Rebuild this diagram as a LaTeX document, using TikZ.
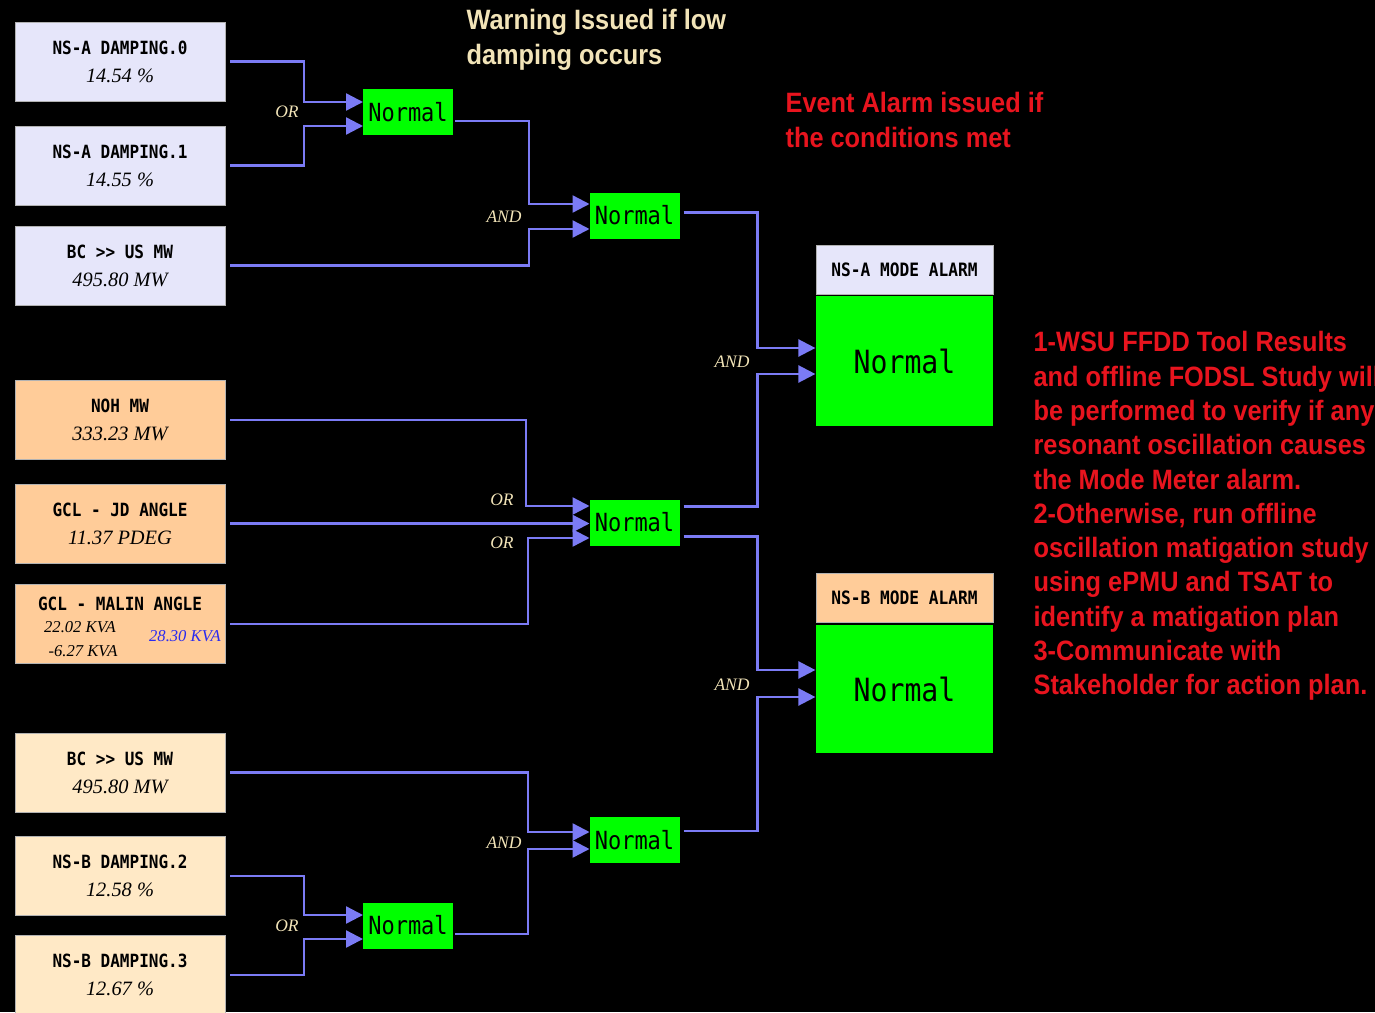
\documentclass[tikz,border=0pt]{standalone}
\usepackage{fontspec}
\usetikzlibrary{calc,arrows.meta}
\newfontfamily\notefont[FakeStretch=0.905]{Liberation Sans}
\newfontfamily\tagfont[FakeStretch=0.88]{DejaVu Sans Mono}
\newfontfamily\valfont{Liberation Serif}
\definecolor{wireblue}{HTML}{7B7BF5}
\definecolor{lavbox}{HTML}{E6E6FA}
\definecolor{peachbox}{HTML}{FFCC99}
\definecolor{creambox}{HTML}{FFE9C6}
\definecolor{gategreen}{HTML}{00FF00}
\definecolor{notecream}{HTML}{F2E4B8}
\definecolor{notered}{HTML}{E8141E}
\definecolor{kvablue}{HTML}{2A2AF0}

\begin{document}
\begin{tikzpicture}[
    x=0.5pt, y=-0.5pt,
    line width=0.6pt,
    srcbox/.style={draw=gray!60, line width=0.4pt, minimum width=105pt,
      minimum height=39.5pt, inner sep=0pt, outer sep=2.5pt, align=center,
      font=\fontsize{10.2}{14}\selectfont},
    tag/.style={font=\tagfont\bfseries\fontsize{9.1}{11}\selectfont},
    gate/.style={fill=gategreen, minimum width=45pt, minimum height=23pt,
      inner sep=0pt, outer sep=0pt, font=\tagfont\fontsize{12.5}{14}\selectfont},
    alarmhead/.style={draw=gray!60, line width=0.4pt, minimum width=88.5pt,
      minimum height=24.5pt, inner sep=0pt, font=\tagfont\bfseries\fontsize{9.2}{11}\selectfont},
    alarm/.style={fill=gategreen, minimum width=88.5pt, inner sep=0pt,
      font=\tagfont\fontsize{16}{18}\selectfont},
    logic/.style={text=notecream, inner sep=0pt, font=\valfont\itshape\fontsize{8.75}{10}\selectfont},
    kva/.style={inner sep=0pt, font=\valfont\itshape\fontsize{8.3}{10}\selectfont},
    note/.style={inner sep=0pt, align=left, font=\notefont\bfseries\fontsize{14}{17.15}\selectfont},
    wire/.style={draw=wireblue, line width=1.2pt},
    feed/.style={wire, -{Triangle[length=8.5pt,width=8.5pt]}},
  ]

  % ---------- Background ---------------------------------------------------
  \fill[black] (0,0) rectangle (1375,1012);
  \useasboundingbox (0,0) rectangle (1375,1012);

  % ---------- NS-A inputs (lavender) ----------------------------------------
  \node[srcbox, fill=lavbox] (dampA0) at (120,61.5)
    {{\tagfont\bfseries\fontsize{9.1}{11}\selectfont NS-A DAMPING.0}\\{\valfont\itshape 14.54 \%}};
  \node[srcbox, fill=lavbox] (dampA1) at (120,165.5)
    {{\tagfont\bfseries\fontsize{9.1}{11}\selectfont NS-A DAMPING.1}\\{\valfont\itshape 14.55 \%}};
  \node[srcbox, fill=lavbox] (flowA) at (120,265.5)
    {{\tagfont\bfseries\fontsize{9.1}{11}\selectfont BC >> US MW}\\{\valfont\itshape 495.80 MW}};

  % ---------- Shared inputs (peach) -----------------------------------------
  \node[srcbox, fill=peachbox] (nohmw) at (120,420)
    {{\tagfont\bfseries\fontsize{9.1}{11}\selectfont NOH MW}\\{\valfont\itshape 333.23 MW}};
  \node[srcbox, fill=peachbox] (jdang) at (120,523.5)
    {{\tagfont\bfseries\fontsize{9.1}{11}\selectfont GCL - JD ANGLE}\\{\valfont\itshape 11.37 PDEG}};
  \node[srcbox, fill=peachbox] (malin) at (120,624) {};
  \node[tag] (malintitle) at (120,604) {GCL - MALIN ANGLE};
  \node[kva] (malinp) at (80,627) {22.02 KVA};
  \node[kva] (malinq) at (83,651) {-6.27 KVA};
  \node[kva, text=kvablue] (malins) at (185,636) {28.30 KVA};

  % ---------- NS-B inputs (cream) -------------------------------------------
  \node[srcbox, fill=creambox] (flowB) at (120,772.5)
    {{\tagfont\bfseries\fontsize{9.1}{11}\selectfont BC >> US MW}\\{\valfont\itshape 495.80 MW}};
  \node[srcbox, fill=creambox] (dampB2) at (120,876)
    {{\tagfont\bfseries\fontsize{9.1}{11}\selectfont NS-B DAMPING.2}\\{\valfont\itshape 12.58 \%}};
  \node[srcbox, fill=creambox] (dampB3) at (120,975)
    {{\tagfont\bfseries\fontsize{9.1}{11}\selectfont NS-B DAMPING.3}\\{\valfont\itshape 12.67 \%}};

  % ---------- Logic gates ---------------------------------------------------
  \node[gate] (gateA1) at (408,112) {Normal};
  \node[gate] (gateA2) at (634.5,215.5) {Normal};
  \node[gate] (gateM) at (634.5,522.5) {Normal};
  \node[gate] (gateB2) at (634.5,840) {Normal};
  \node[gate] (gateB1) at (408,925.5) {Normal};

  % ---------- Mode alarms ---------------------------------------------------
  \node[alarmhead, fill=lavbox] (headA) at (904.5,269.5) {NS-A MODE ALARM};
  \node[alarm, minimum height=65pt] (modeA) at (904.5,361) {Normal};
  \node[alarmhead, fill=peachbox] (headB) at (904.5,597.5) {NS-B MODE ALARM};
  \node[alarm, minimum height=64pt] (modeB) at (904.5,689) {Normal};

  % ---------- Gate input points ---------------------------------------------
  \coordinate (a1i1) at ($(gateA1.west)+(0,-10)$);
  \coordinate (a1i2) at ($(gateA1.west)+(0,14)$);
  \coordinate (a2i1) at ($(gateA2.west)+(0,-11.5)$);
  \coordinate (a2i2) at ($(gateA2.west)+(0,13.5)$);
  \coordinate (mi1) at ($(gateM.west)+(0,-16.5)$);
  \coordinate (mi3) at ($(gateM.west)+(0,15.5)$);
  \coordinate (b2i1) at ($(gateB2.west)+(0,-8)$);
  \coordinate (b2i2) at ($(gateB2.west)+(0,9)$);
  \coordinate (b1i1) at ($(gateB1.west)+(0,-10.5)$);
  \coordinate (b1i2) at ($(gateB1.west)+(0,13.5)$);
  \coordinate (ai1) at ($(modeA.west)+(0,-13)$);
  \coordinate (ai2) at ($(modeA.west)+(0,13)$);
  \coordinate (bi1) at ($(modeB.west)+(0,-19)$);
  \coordinate (bi2) at ($(modeB.west)+(0,8)$);

  % ---------- Wiring --------------------------------------------------------
  % NS-A damping OR
  \draw[feed] (dampA0.east) -- ++(74,0) |- (a1i1);
  \draw[feed] (dampA1.east) -- ++(74,0) |- (a1i2);
  % NS-A AND with flow
  \draw[feed] ($(gateA1.east)+(2,9)$) -- ++(74,0) |- (a2i1);
  \draw[feed] (flowA.east) -- ++(299,0) |- (a2i2);
  % shared conditions OR
  \draw[feed] (nohmw.east) -- ++(296,0) |- (mi1);
  \draw[feed] (jdang.east) -- (jdang.east -| gateM.west);
  \draw[feed] (malin.east) -- ++(298,0) |- (mi3);
  % NS-A alarm AND
  \draw[feed] ($(gateA2.east)+(4,-3)$) -- ++(74,0) |- (ai1);
  \draw[feed] ($(gateM.east)+(4,-16)$) -- ++(74,0) |- (ai2);
  % NS-B alarm AND
  \draw[feed] ($(gateM.east)+(4,14)$) -- ++(74,0) |- (bi1);
  \draw[feed] ($(gateB2.east)+(4,-9)$) -- ++(74,0) |- (bi2);
  % NS-B AND with flow
  \draw[feed] (flowB.east) -- ++(298,0) |- (b2i1);
  \draw[feed] ($(gateB1.east)+(2,8.5)$) -- ++(73,0) |- (b2i2);
  % NS-B damping OR
  \draw[feed] (dampB2.east) -- ++(74,0) |- (b1i1);
  \draw[feed] (dampB3.east) -- ++(74,0) |- (b1i2);

  % ---------- Logic labels --------------------------------------------------
  \node[logic] (orA) at (287,112) {OR};
  \node[logic] (andA) at (504,217) {AND};
  \node[logic] (andAl) at (732,362) {AND};
  \node[logic] (orM1) at (502,500) {OR};
  \node[logic] (orM2) at (502,543) {OR};
  \node[logic] (andBl) at (732,685) {AND};
  \node[logic] (andB) at (504,843) {AND};
  \node[logic] (orB) at (287,926) {OR};

  % ---------- Notes ---------------------------------------------------------
  \node[note, text=notecream, anchor=north west] (warnnote) at (466,9)
    {Warning Issued if low\\damping occurs};
  \node[note, text=notered, anchor=north west] (eventnote) at (785,92)
    {Event Alarm issued if\\the conditions met};
  \node[note, text=notered, anchor=north west] (actnote) at (1033,331)
    {1-WSU FFDD Tool Results\\and offline FODSL Study will\\be performed to verify if any\\
     resonant oscillation causes\\the Mode Meter alarm.\\2-Otherwise, run offline\\
     oscillation matigation study\\using ePMU and TSAT to\\identify a matigation plan\\
     3-Communicate with\\Stakeholder for action plan.};

\end{tikzpicture}
\end{document}
